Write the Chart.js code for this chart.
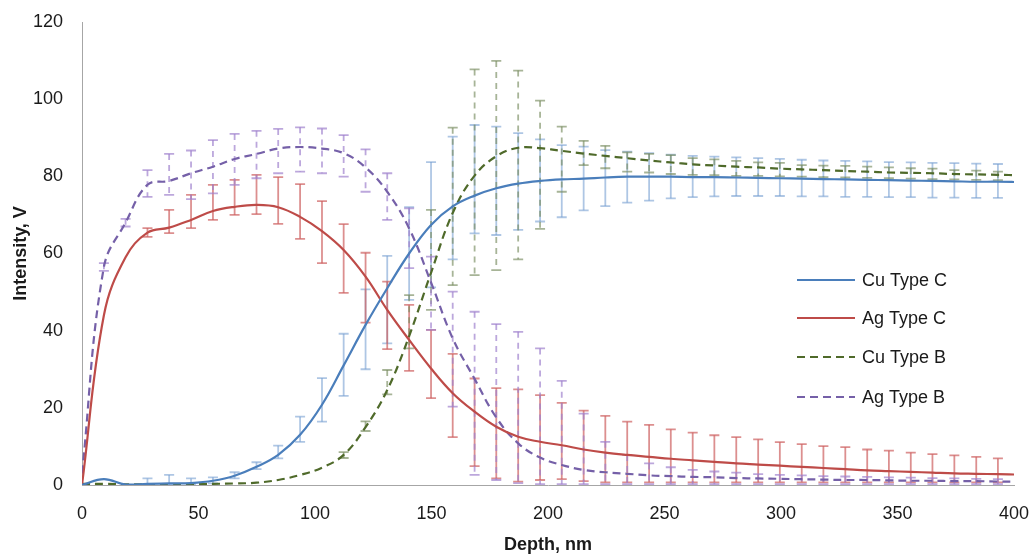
<!DOCTYPE html>
<html>
<head>
<meta charset="utf-8">
<script src="https://cdn.jsdelivr.net/npm/chart.js@4.4.0/dist/chart.umd.min.js"></script>
<style>
  html, body { margin: 0; padding: 0; background: #fff; }
  #wrap { width: 1032px; height: 556px; }
</style>
</head>
<body>
<div id="wrap"><canvas id="myChart" width="1032" height="556"></canvas></div>
<script>
// depth of each measurement, nm
const depth = [0, 9.4, 18.7, 28.1, 37.4, 46.8, 56.2, 65.5, 74.9, 84.2, 93.6, 103, 112.3, 121.7, 131, 140.4, 149.8, 159.1, 168.5, 177.8, 187.2, 196.6, 205.9, 215.3, 224.6, 234, 243.4, 252.7, 262.1, 271.4, 280.8, 290.2, 299.5, 308.9, 318.2, 327.6, 337, 346.3, 355.7, 365, 374.4, 383.8, 393.1, 402.5];

// Cu Type C
const cuC   = [0, 1.5, 0.1, 0.3, 0.4, 0.5, 1.1, 2.4, 4.7, 7.8, 13, 20.8, 31, 41.5, 51, 60, 67.4, 72.2, 75, 76.9, 78.1, 78.8, 79.2, 79.4, 79.7, 79.9, 79.9, 79.9, 79.8, 79.8, 79.7, 79.6, 79.5, 79.4, 79.3, 79.2, 79.1, 79, 78.9, 78.8, 78.7, 78.6, 78.6, 78.5];
const cuCHi = [null, null, null, 1.7, 2.6, 1.7, 2.0, 3.3, 5.9, 10.2, 17.7, 27.7, 39.2, 50.7, 59.4, 72, 83.7, 90.3, 93.3, 92.9, 91.2, 89.6, 88.1, 87.7, 86.8, 86.4, 86.0, 85.6, 85.3, 85.1, 84.9, 84.7, 84.5, 84.3, 84.1, 84.0, 83.9, 83.7, 83.6, 83.5, 83.4, 83.3, 83.2, 83.1];
const cuCLo = [null, null, null, 0, 0, 0, 0.4, 1.7, 4.1, 6.9, 11.2, 16.4, 23.1, 30, 36.7, 48, 51.2, 58.5, 65.2, 64.8, 66.1, 68.3, 69.4, 71.2, 72.3, 73.2, 73.7, 74.3, 74.6, 74.8, 74.9, 74.9, 74.9, 74.8, 74.8, 74.7, 74.7, 74.6, 74.6, 74.5, 74.5, 74.4, 74.4, 74.3];

// Ag Type C
const agC   = [0, 44, 59, 65.4, 66.7, 68.7, 71, 72.1, 72.6, 72, 69.5, 65.8, 60.9, 54, 45.4, 37.6, 30.2, 23.8, 19, 15.1, 12.5, 11.2, 10.3, 9.2, 8.4, 7.8, 7.3, 6.8, 6.4, 6.0, 5.6, 5.3, 5.0, 4.7, 4.4, 4.1, 3.8, 3.6, 3.4, 3.2, 3.0, 2.9, 2.8, 2.7];
const agCHi = [null, null, null, 66.6, 71.3, 75.2, 77.8, 79.1, 80.4, 79.8, 78.0, 73.6, 67.6, 60.2, 52.7, 46.7, 40.2, 34.0, 27.6, 25.1, 24.8, 23.3, 21.3, 19.3, 17.9, 16.4, 15.6, 14.4, 13.6, 12.9, 12.4, 11.8, 11.1, 10.6, 10.1, 9.8, 9.2, 8.9, 8.4, 8.0, 7.7, 7.3, 6.9, 6.6];
const agCLo = [null, null, null, 64.3, 65.3, 66.6, 68.7, 70.0, 70.2, 67.7, 63.8, 57.5, 49.8, 42.1, 35.2, 29.6, 22.5, 12.4, 4.9, 1.7, 0.9, 1.3, 1.5, 1.0, 0.7, 0.7, 0.7, 0.7, 0.7, 0.7, 0.7, 0.7, 0.7, 0.7, 0.7, 0.7, 0.7, 0.7, 0.7, 0.7, 0.7, 0.7, 0.7, 0.7];

// Cu Type B
const cuB   = [0.3, 0.3, 0.2, 0.2, 0.2, 0.2, 0.3, 0.4, 0.6, 1.3, 2.6, 4.5, 7.8, 15, 24.6, 38.6, 55, 70.5, 80.2, 85.2, 87.4, 87.3, 86.6, 85.9, 85.3, 84.7, 84.1, 83.6, 83.1, 82.8, 82.5, 82.3, 82.0, 81.8, 81.6, 81.4, 81.2, 81.0, 80.9, 80.8, 80.6, 80.5, 80.4, 80.3];
const cuBHi = [null, null, null, null, null, null, null, null, null, null, null, null, 8.5, 16.5, 29.8, 49.2, 71.3, 92.6, 107.7, 109.9, 107.4, 99.6, 92.9, 89.2, 87.9, 86.2, 85.8, 85.5, 84.7, 84.4, 84.0, 83.6, 83.5, 82.9, 82.8, 82.7, 82.5, 82.3, 82.1, 82.0, 81.6, 81.5, 81.2, 81.1];
const cuBLo = [null, null, null, null, null, null, null, null, null, null, null, null, 7.0, 14, 23.5, 35.4, 45.4, 51.8, 54.4, 55.7, 58.5, 66.4, 76.0, 82.9, 82.1, 81.2, 81.0, 80.6, 80.4, 80.3, 80.1, 80.1, 80.0, 79.9, 79.8, 79.7, 79.6, 79.5, 79.4, 79.3, 79.2, 79.1, 79.0, 78.9];

// Ag Type B
const agB   = [3, 56.5, 68, 77.8, 78.8, 80.8, 82.5, 84.5, 85.8, 87.2, 87.6, 87.2, 86, 82.3, 76, 66.5, 52.5, 38, 27.5, 17.5, 10.8, 7.1, 5.2, 3.9, 3.3, 2.9, 2.5, 2.3, 2.1, 2.0, 1.8, 1.7, 1.6, 1.5, 1.4, 1.3, 1.3, 1.2, 1.1, 1.1, 1.0, 1.0, 0.9, 0.9];
const agBHi = [null, 57.5, 69, 81.6, 85.8, 86.7, 89.4, 91, 91.8, 92.3, 92.7, 92.4, 90.7, 87, 80.8, 71.7, 59.2, 50.1, 44.9, 41.7, 39.7, 35.4, 27, 18.5, 11.2, 7.8, 5.6, 4.6, 3.9, 3.5, 3.2, 2.8, 2.6, 2.5, 2.3, 2.2, 2.1, 2.0, 1.9, 1.8, 1.7, 1.6, 1.5, 1.5];
const agBLo = [null, 55.5, 67, 74.7, 75.2, 74.1, 75.6, 77.8, 79.5, 80.8, 81.2, 80.8, 79.9, 76, 68.7, 56.2, 40.2, 20.3, 2.6, 1.3, 0.5, 0.2, 0.2, 0.2, 0.2, 0.2, 0.2, 0.2, 0.2, 0.2, 0.2, 0.2, 0.2, 0.2, 0.2, 0.2, 0.2, 0.2, 0.2, 0.2, 0.2, 0.2, 0.2, 0.2];

const font = "'Liberation Sans', Arial, sans-serif";

function points(vals, hi, lo) {
  return depth.map((d, i) => ({ x: d, y: vals[i], hi: hi[i], lo: lo[i] }));
}

// vertical error bars with caps, drawn under the lines
const errorBars = {
  id: 'errorBars',
  beforeDatasetsDraw(chart) {
    const { ctx, chartArea, scales: { x, y } } = chart;
    ctx.save();
    ctx.beginPath();
    ctx.rect(chartArea.left, chartArea.top, chartArea.width, chartArea.height);
    ctx.clip();
    ctx.lineWidth = 1.8;
    chart.data.datasets.forEach(ds => {
      ctx.strokeStyle = ds.errColor;
      ds.data.forEach(p => {
        if (p.hi == null) return;
        const px = x.getPixelForValue(p.x);
        const top = y.getPixelForValue(p.hi);
        const bot = y.getPixelForValue(p.lo);
        ctx.setLineDash(ds.borderDash ? [6, 5] : []);
        ctx.beginPath();
        ctx.moveTo(px, top);
        ctx.lineTo(px, bot);
        ctx.stroke();
        ctx.setLineDash([]);
        ctx.beginPath();
        ctx.moveTo(px - 5, top); ctx.lineTo(px + 5, top);
        ctx.moveTo(px - 5, bot); ctx.lineTo(px + 5, bot);
        ctx.stroke();
      });
    });
    ctx.restore();
  }
};

// legend inside the plot, lower right
const sideLegend = {
  id: 'sideLegend',
  afterDraw(chart) {
    const { ctx, chartArea } = chart;
    const x0 = chartArea.right - 217;
    const rows = [280, 318, 357, 397];
    ctx.save();
    ctx.font = '18px ' + font;
    ctx.textBaseline = 'middle';
    chart.data.datasets.forEach((ds, i) => {
      const yy = rows[i];
      ctx.strokeStyle = ds.borderColor;
      ctx.lineWidth = 2.2;
      ctx.setLineDash(ds.borderDash || []);
      ctx.beginPath();
      ctx.moveTo(x0, yy);
      ctx.lineTo(x0 + 58, yy);
      ctx.stroke();
      ctx.setLineDash([]);
      ctx.fillStyle = '#1a1a1a';
      ctx.fillText(ds.label, x0 + 65, yy + 1);
    });
    ctx.restore();
  }
};

const data = {
  datasets: [
    { label: 'Cu Type C', data: points(cuC, cuCHi, cuCLo), borderColor: '#4a7ebb', errColor: 'rgba(120,160,210,0.6)' },
    { label: 'Ag Type C', data: points(agC, agCHi, agCLo), borderColor: '#be4b48', errColor: 'rgba(205,95,95,0.7)' },
    { label: 'Cu Type B', data: points(cuB, cuBHi, cuBLo), borderColor: '#4f6a2a', borderDash: [8, 5], errColor: 'rgba(120,140,95,0.65)' },
    { label: 'Ag Type B', data: points(agB, agBHi, agBLo), borderColor: '#7560a8', borderDash: [8, 5], errColor: 'rgba(160,130,205,0.7)' }
  ]
};
data.datasets.forEach(ds => {
  ds.showLine = true;
  ds.pointRadius = 0;
  ds.borderWidth = 2.2;
  ds.tension = 0.4;
  ds.fill = false;
});

const config = {
  type: 'scatter',
  data: data,
  options: {
    responsive: false,
    animation: false,
    devicePixelRatio: 1,
    layout: { padding: { top: 22, right: 18, left: 0, bottom: 0 } },
    plugins: { legend: { display: false }, tooltip: { enabled: false } },
    scales: {
      x: {
        min: 0, max: 400,
        grid: { display: false, drawTicks: false },
        border: { display: true, color: '#a6a6a6', width: 1 },
        ticks: { stepSize: 50, padding: 18, color: '#1a1a1a', font: { family: font, size: 18 } },
        title: { display: true, text: 'Depth, nm', color: '#1a1a1a', padding: { top: 0, bottom: 0 }, font: { family: font, size: 18, weight: 'bold' } },
        afterFit: s => { s.height = 71; s.paddingLeft = 0; s.paddingRight = 0; }
      },
      y: {
        min: 0, max: 120,
        grid: { display: false, drawTicks: false },
        border: { display: true, color: '#a6a6a6', width: 1 },
        ticks: { stepSize: 20, padding: 19, color: '#1a1a1a', font: { family: font, size: 18 } },
        title: { display: true, text: 'Intensity, V', color: '#1a1a1a', padding: { top: 10, bottom: 0 }, font: { family: font, size: 18, weight: 'bold' } },
        afterFit: s => { s.width = 82; s.paddingTop = 0; s.paddingBottom = 0; }
      }
    }
  },
  plugins: [errorBars, sideLegend]
};

const myChart = new Chart(document.getElementById('myChart'), config);
</script>
</body>
</html>
